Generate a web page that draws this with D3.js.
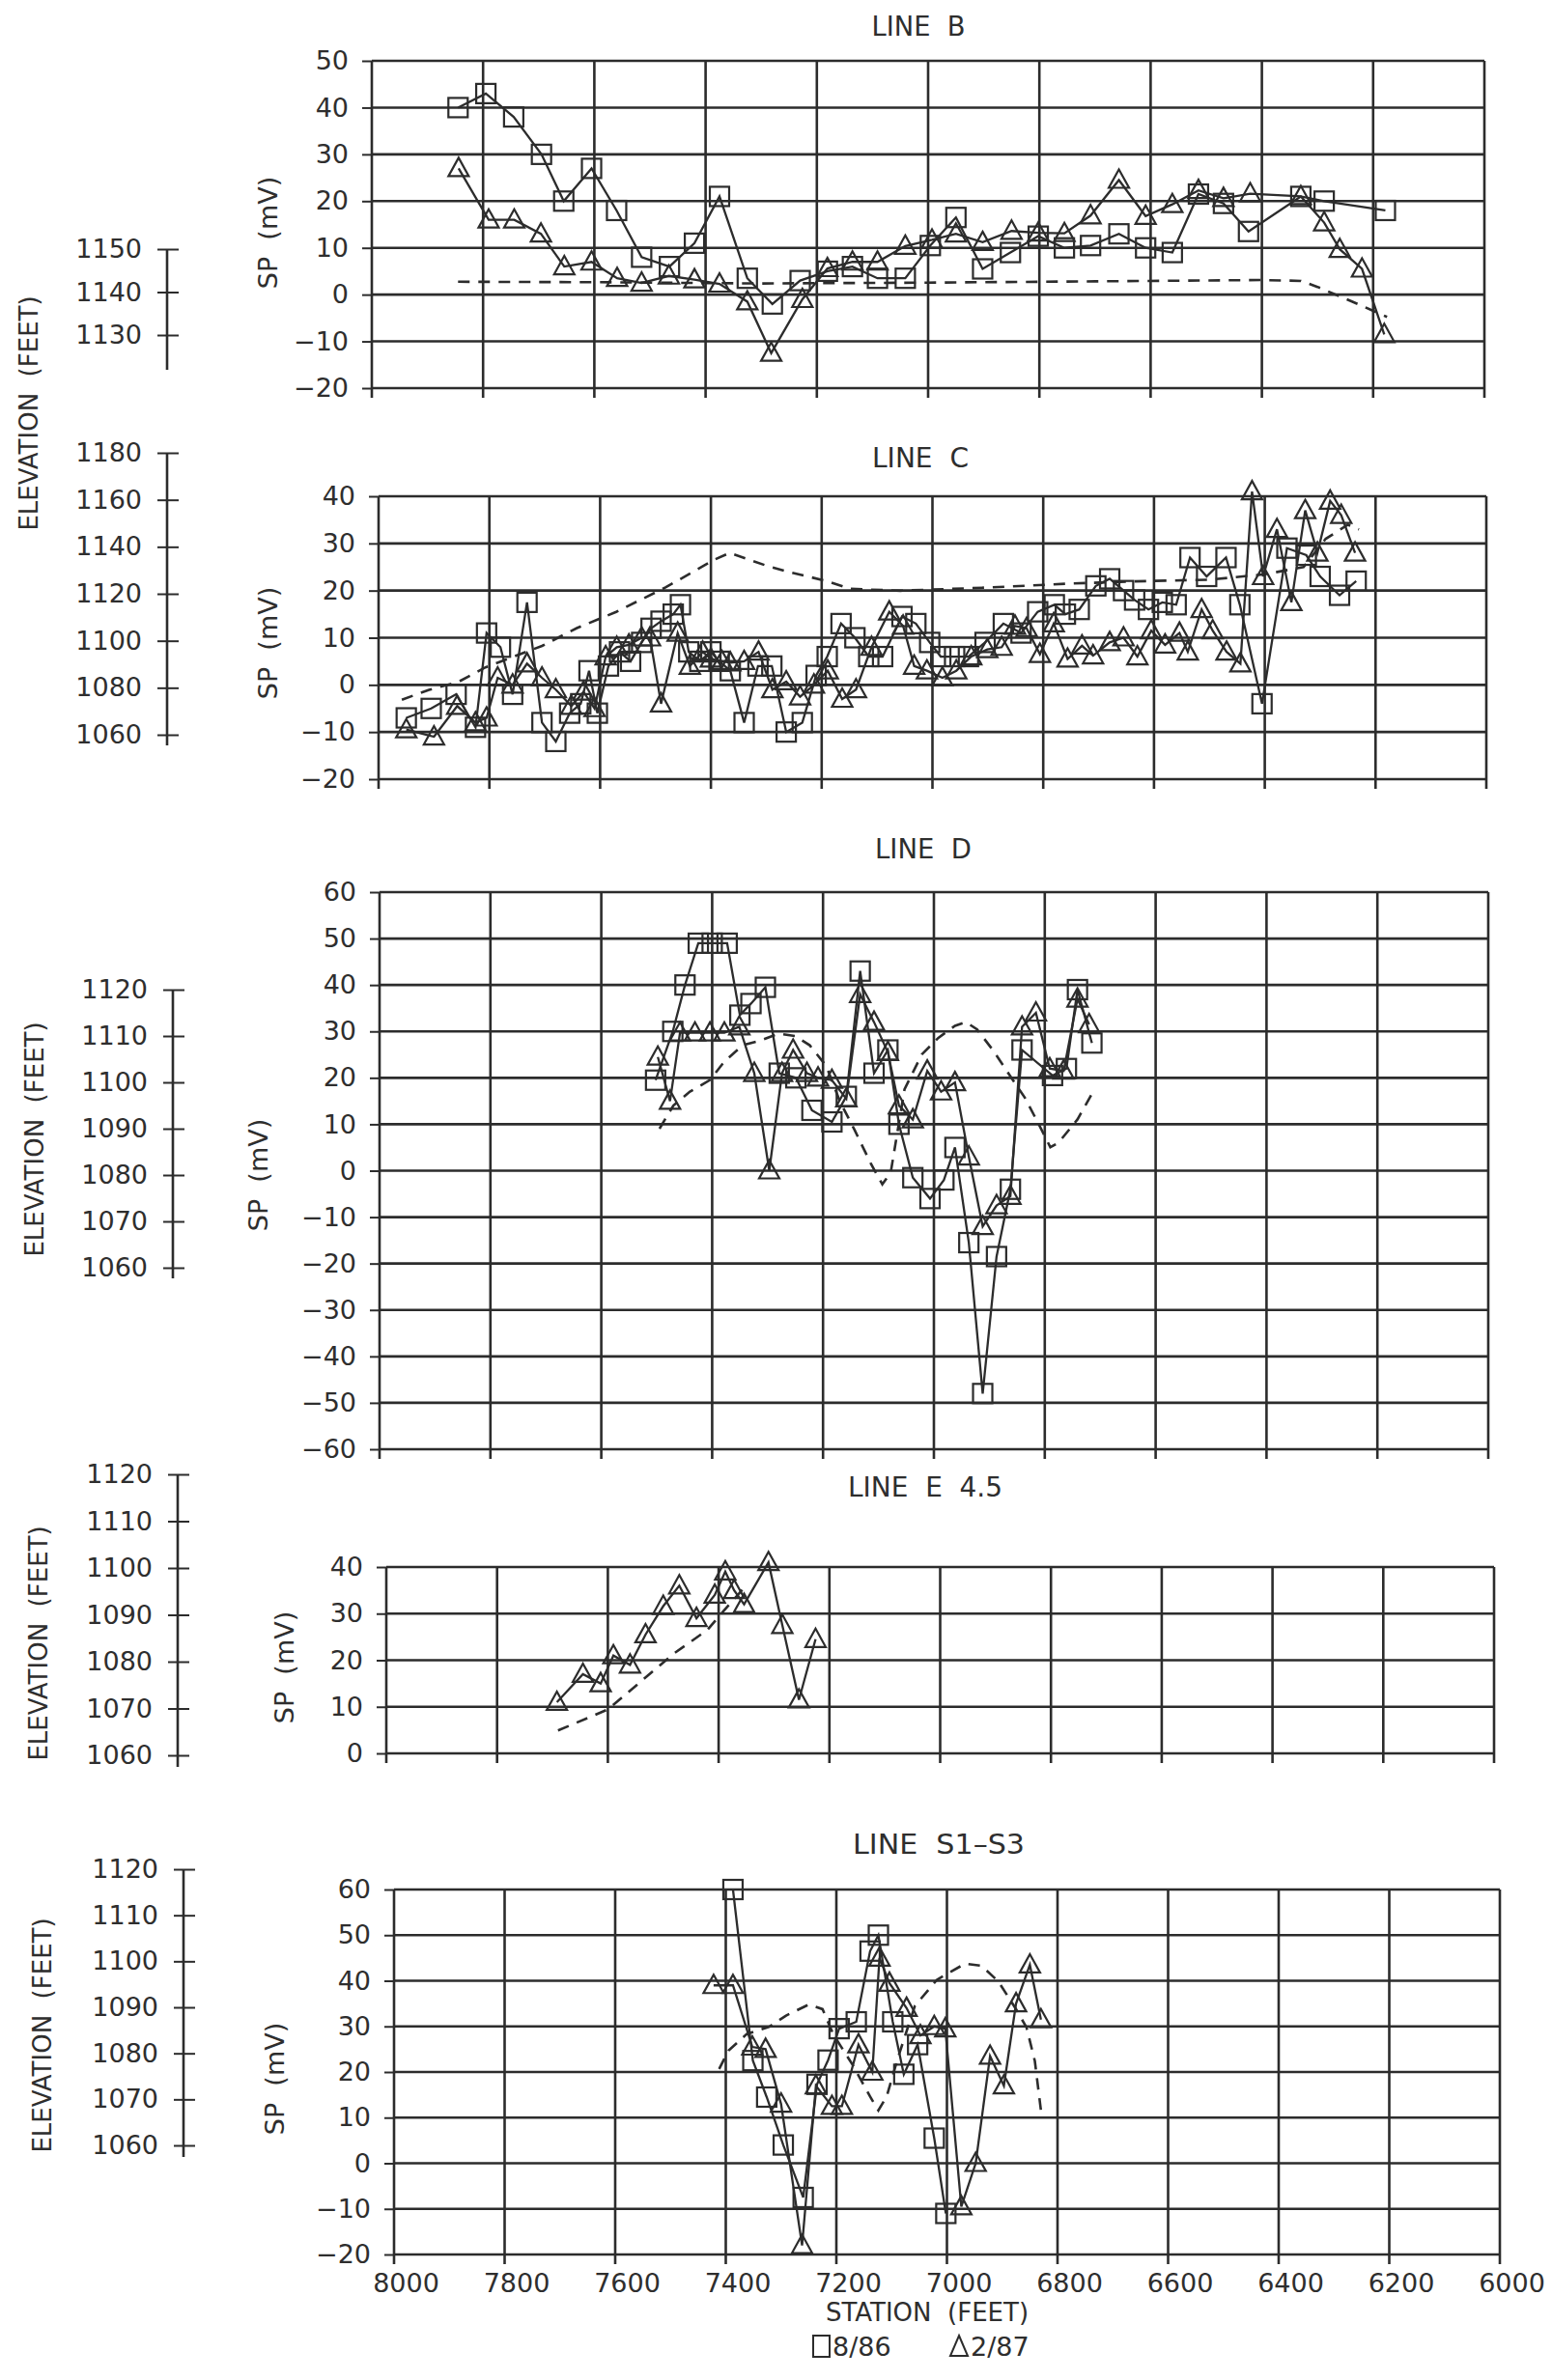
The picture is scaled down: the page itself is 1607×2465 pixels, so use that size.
<!DOCTYPE html>
<meta charset="utf-8">
<script src="https://d3js.org/d3.v7.min.js"></script>
<style>
  body { margin: 0; background: #fff; }
  text { font-family: "DejaVu Sans", "Liberation Sans", sans-serif; fill: #2e2e2e; }
</style>
<div id="chart"></div>
<script>
  // station (feet) grid, shared by all panels
  var stations = [8000, 7800, 7600, 7400, 7200, 7000, 6800, 6600, 6400, 6200, 6000];

  // ---- LINE B ----
  var lineB_ticks = [-20, -10, 0, 10, 20, 30, 40, 50];
  var lineB_elevTicks = [1130, 1140, 1150];
  var lineB_886 = [[7845,40],[7795,43],[7745,38],[7695,30],[7655,20],[7605,27],[7560,18],[7515,8],[7465,6],[7420,11],[7375,21],[7325,3.5],[7280,-2],[7230,3],[7181,5],[7136,6],[7091,3.5],[7041,3.5],[6996,10.5],[6950,16.5],[6902,5.5],[6852,9],[6802,12.5],[6755,10],[6708,10.5],[6657,13],[6609,10],[6561,9],[6514,21.5],[6469,19.5],[6424,13.5],[6330,21],[6288,20],[6178,18]];
  var lineB_287 = [[7844,27],[7790,16],[7744,16],[7696,13],[7654,6],[7605,7],[7559,3.5],[7515,2.5],[7466,4],[7420,3.2],[7375,2.3],[7325,-1.5],[7282,-12.5],[7226,-1],[7181,5.6],[7136,7],[7091,7],[7041,10.4],[6993,11.7],[6950,13],[6902,11.2],[6850,13.6],[6802,13.2],[6755,13.1],[6708,16.9],[6657,24.5],[6609,16.8],[6561,19.3],[6514,22.3],[6469,20.6],[6421,21.6],[6330,21],[6288,15.4],[6260,9.7],[6220,5.5],[6180,-8.5]];
  var lineB_elev = [[7845,1142.4],[7600,1142.3],[7300,1142.0],[7000,1142.2],[6700,1142.5],[6400,1142.8],[6330,1142.6],[6300,1141.2],[6260,1139],[6220,1136.8],[6175,1134.2]];

  // ---- LINE C ----
  var lineC_ticks = [-20, -10, 0, 10, 20, 30, 40];
  var lineC_elevTicks = [1060, 1080, 1100, 1120, 1140, 1160, 1180];
  var lineC_886 = [[7950,-7],[7905,-5],[7860,-2],[7825,-9],[7805,11],[7780,8],[7758,-2],[7732,17.5],[7705,-8],[7680,-12],[7655,-6],[7635,-4],[7620,3],[7605,-6],[7585,4],[7565,7],[7545,5],[7525,9],[7508,12],[7490,13.5],[7468,15],[7455,17],[7440,7],[7420,5],[7400,7],[7385,5],[7365,3],[7340,-8],[7315,4],[7290,4],[7264,-10],[7235,-8],[7210,2],[7190,6],[7165,13],[7140,10],[7115,6],[7090,6],[7055,14.5],[7030,13],[7005,9],[6985,6],[6960,6],[6935,6],[6905,9],[6872,13],[6840,11],[6810,15.5],[6780,17],[6760,15],[6735,16],[6705,21],[6680,22.5],[6655,20],[6635,18],[6610,16],[6585,17.5],[6560,17],[6535,27],[6505,23],[6470,27],[6445,17],[6405,-4],[6360,29],[6325,27.5],[6300,23],[6265,19],[6235,22]];
  var lineC_287 = [[7950,-9.5],[7900,-11],[7858,-4.5],[7825,-8],[7805,-7],[7785,1.5],[7758,0],[7732,4.5],[7705,1.5],[7680,-1],[7652,-4.5],[7630,-1.5],[7610,-5],[7590,6],[7570,8],[7548,8.5],[7525,10],[7510,10],[7490,-4],[7460,11],[7438,4],[7415,7],[7400,5.5],[7380,5],[7365,4.7],[7340,5],[7314,7],[7289,-1],[7264,0.7],[7239,-2.5],[7214,0],[7189,3],[7163,-3],[7138,-1],[7110,8],[7078,15.5],[7053,12.5],[7033,4],[7010,3],[6982,1.5],[6957,3],[6930,6],[6901,7.5],[6875,8],[6851,12.5],[6830,12],[6806,6.5],[6781,13],[6756,5.5],[6730,8.3],[6710,6.2],[6680,9],[6655,10],[6630,6],[6605,11.5],[6580,8.5],[6554,11],[6539,7],[6514,16],[6494,11.5],[6469,7],[6444,4.5],[6423,41],[6403,23],[6378,33],[6352,17.5],[6327,37],[6305,28],[6282,39],[6262,36],[6237,28]];
  var lineC_elev = [[7958,1074.9],[7909,1079.1],[7856,1082.5],[7807,1088.7],[7705,1097.8],[7642,1105.4],[7571,1112.3],[7482,1122.7],[7393,1134.6],[7366,1137.4],[7300,1132],[7259,1129.3],[7189,1125.3],[7148,1122.1],[7058,1121.3],[6896,1122.7],[6756,1124.3],[6635,1125.3],[6500,1126],[6400,1128.3],[6330,1131.4],[6290,1143.4],[6250,1149.4],[6230,1147.4]];

  // ---- LINE D ----
  var lineD_ticks = [-60, -50, -40, -30, -20, -10, 0, 10, 20, 30, 40, 50, 60];
  var lineD_elevTicks = [1060, 1070, 1080, 1090, 1100, 1110, 1120];
  var lineD_886 = [[7502,19.5],[7471,30],[7449,40],[7425,49],[7400,49],[7373,49],[7350,33.5],[7330,36],[7304,39.5],[7279,21],[7249,20],[7220,13],[7184,10.5],[7158,16],[7133,43],[7108,21],[7083,26],[7063,10],[7038,-1.5],[7007,-6],[6982,-2],[6962,5],[6937,-15.5],[6912,-48],[6887,-18.5],[6862,-4],[6841,26],[6786,20.5],[6761,22],[6741,39],[6715,27.5]];
  var lineD_287 = [[7498,24.5],[7476,15],[7458,29.7],[7431,29.7],[7404,29.7],[7378,29.7],[7351,31],[7324,21],[7297,0],[7274,21],[7254,26],[7229,21],[7209,20],[7184,19.5],[7158,15.5],[7133,38],[7108,32],[7083,25.5],[7063,14],[7038,11],[7012,21.5],[6987,17],[6962,19],[6937,3],[6912,-12],[6887,-7.5],[6862,-5.5],[6841,31],[6816,34],[6791,22],[6766,21.5],[6741,37],[6720,31.5]];
  var lineD_elev = [[7495,1090],[7470,1095],[7440,1098],[7404,1100.5],[7378,1104.5],[7345,1108],[7314,1109],[7280,1110.5],[7250,1110],[7224,1108],[7194,1103.5],[7170,1096],[7143,1089.7],[7113,1082.3],[7093,1078],[7078,1080.5],[7053,1098.5],[7022,1106],[6992,1109.6],[6962,1112.2],[6942,1113],[6922,1111.4],[6892,1106.7],[6862,1101.3],[6836,1096.7],[6811,1091],[6790,1086],[6775,1087],[6741,1092],[6715,1097.5]];

  // ---- LINE E 4.5 ----
  var lineE_ticks = [0, 10, 20, 30, 40];
  var lineE_elevTicks = [1060, 1070, 1080, 1090, 1100, 1110, 1120];
  var lineE_886 = [];
  var lineE_287 = [[7692,11],[7645,17],[7613,15],[7590,21],[7560,19],[7532,25.5],[7500,31.6],[7471,36],[7440,29],[7407,34],[7388,39],[7372,35],[7354,32],[7310,41],[7285,27.5],[7255,11.5],[7225,24.5]];
  var lineE_elev = [[7690,1065.3],[7600,1069.8],[7540,1075.8],[7480,1081.8],[7420,1086.8],[7395,1090.3],[7350,1096.3]];

  // ---- LINE S1-S3 ----
  var lineS_ticks = [-20, -10, 0, 10, 20, 30, 40, 50, 60];
  var lineS_elevTicks = [1060, 1070, 1080, 1090, 1100, 1110, 1120];
  var lineS_886 = [[7387,60],[7351,22.5],[7326,14.5],[7296,4],[7260,-7.5],[7235,17.3],[7215,22.6],[7195,29.5],[7164,31],[7139,46.5],[7124,50],[7098,31],[7078,19.5],[7053,26],[7023,5.5],[7002,-11]];
  var lineS_287 = [[7422,39],[7387,39],[7352,25.5],[7328,25],[7300,13],[7262,-18],[7237,17],[7208,12.5],[7190,12.5],[7160,26],[7135,20],[7122,45],[7104,39.5],[7073,34],[7048,28],[7023,30],[7003,29.5],[6974,-9.5],[6948,0],[6922,23.5],[6897,17],[6875,35],[6850,43.5],[6830,31.5]];
  var lineS_elev = [[7412,1076.6],[7395,1080.6],[7362,1084.2],[7321,1085.8],[7291,1088.2],[7250,1090.6],[7225,1089.6],[7205,1084],[7170,1077.4],[7139,1070.6],[7124,1067.6],[7109,1070.6],[7089,1078.9],[7058,1090.3],[7018,1096],[6967,1099.5],[6937,1099],[6907,1095.6],[6876,1089.8],[6856,1085.6],[6841,1078.3],[6830,1067.6]];

  // page layout of each panel
  var panels = [
    {title: "LINE  B", tw: 97, sq: lineB_886, tri: lineB_287, elev: lineB_elev, ticks: lineB_ticks, elevTicks: lineB_elevTicks,
     left: 385, right: 1537, top: 63, bottom: 402, elevTop: 258, elevBottom: 347, elevX: 173, elevEnd: 383,
     titleX: 951, titleY: 37, spX: 278, spY: 241},
    {title: "LINE  C", tw: 100, sq: lineC_886, tri: lineC_287, elev: lineC_elev, ticks: lineC_ticks, elevTicks: lineC_elevTicks,
     left: 392, right: 1539, top: 514, bottom: 807, elevTop: 469, elevBottom: 761, elevX: 173, elevEnd: 772,
     titleX: 953, titleY: 484, spX: 278, spY: 666},
    {title: "LINE  D", tw: 100, sq: lineD_886, tri: lineD_287, elev: lineD_elev, ticks: lineD_ticks, elevTicks: lineD_elevTicks,
     left: 393, right: 1541, top: 924, bottom: 1501, elevTop: 1025, elevBottom: 1313, elevX: 179, elevEnd: 1324,
     titleX: 956, titleY: 889, spX: 268, spY: 1217},
    {title: "LINE  E  4.5", tw: 160, sq: lineE_886, tri: lineE_287, elev: lineE_elev, ticks: lineE_ticks, elevTicks: lineE_elevTicks,
     left: 400, right: 1547, top: 1623, bottom: 1816, elevTop: 1527, elevBottom: 1818, elevX: 184, elevEnd: 1830,
     titleX: 958, titleY: 1550, spX: 295, spY: 1727},
    {title: "LINE  S1\u2013S3", tw: 178, sq: lineS_886, tri: lineS_287, elev: lineS_elev, ticks: lineS_ticks, elevTicks: lineS_elevTicks,
     left: 408, right: 1553, top: 1957, bottom: 2335, elevTop: 1936, elevBottom: 2222, elevX: 190, elevEnd: 2234,
     titleX: 972, titleY: 1920, spX: 285, spY: 2153}
  ];
  var elevLabels = [[30, 428], [36, 1180], [40, 1702], [44, 2108]];

  var ink = "#2c2c2c";
  var svg = d3.select("#chart").append("svg").attr("width", 1607).attr("height", 2465);
  svg.append("rect").attr("width", 1607).attr("height", 2465).attr("fill", "#fff");

  var triPath = "M0,-11L10.5,8L-10.5,8Z";

  panels.forEach(function(p, i) {
    var x = d3.scaleLinear().domain([8000, 6000]).range([p.left, p.right]);
    var y = d3.scaleLinear().domain(d3.extent(p.ticks)).range([p.bottom, p.top]);
    var ey = d3.scaleLinear().domain(d3.extent(p.elevTicks)).range([p.elevBottom, p.elevTop]);
    var g = svg.append("g");

    // grid
    g.selectAll(".hg").data(p.ticks).enter().append("line")
      .attr("x1", p.left).attr("x2", p.right)
      .attr("y1", function(d) { return y(d); }).attr("y2", function(d) { return y(d); })
      .attr("stroke", ink).attr("stroke-width", 2.6);
    g.selectAll(".vg").data(stations).enter().append("line")
      .attr("x1", function(d) { return x(d); }).attr("x2", function(d) { return x(d); })
      .attr("y1", p.top).attr("y2", p.bottom + 10)
      .attr("stroke", ink).attr("stroke-width", 2.6);

    // SP axis
    var ya = g.append("g").attr("transform", "translate(" + p.left + ",0)")
      .call(d3.axisLeft(y).tickValues(p.ticks).tickSize(10).tickPadding(14));
    ya.select(".domain").remove();
    ya.attr("font-size", 27).attr("font-family", "DejaVu Sans").attr("color", ink);
    ya.selectAll("line").attr("stroke-width", 2);

    // elevation axis
    var ea = g.append("g").attr("transform", "translate(" + p.elevX + ",0)")
      .call(d3.axisLeft(ey).tickValues(p.elevTicks).tickSize(0).tickPadding(26).tickFormat(d3.format("d")));
    ea.select(".domain").remove();
    ea.attr("font-size", 27).attr("font-family", "DejaVu Sans").attr("color", ink);
    ea.selectAll(".tick line").attr("x1", -10).attr("x2", 12).attr("stroke-width", 2);
    ea.append("line").attr("x1", 0).attr("x2", 0)
      .attr("y1", ey(d3.max(p.elevTicks))).attr("y2", p.elevEnd)
      .attr("stroke", ink).attr("stroke-width", 2.6);

    // title and SP label
    g.append("text").attr("x", p.titleX).attr("y", p.titleY)
      .attr("text-anchor", "middle").style("white-space", "pre")
      .attr("font-size", 28).attr("textLength", p.tw).attr("lengthAdjust", "spacingAndGlyphs")
      .text(p.title);
    g.append("text").attr("transform", "translate(" + p.spX + "," + p.spY + ") rotate(-90)")
      .attr("text-anchor", "middle").attr("dy", "0.35em").style("white-space", "pre")
      .attr("font-size", 27).text("SP  (mV)");

    // elevation profile (dashed)
    var eline = d3.line().x(function(d) { return x(d[0]); }).y(function(d) { return ey(d[1]); });
    g.append("path").datum(p.elev).attr("d", eline)
      .attr("fill", "none").attr("stroke", ink).attr("stroke-width", 2.6)
      .attr("stroke-dasharray", "12,9");

    // SP series
    var sline = d3.line().x(function(d) { return x(d[0]); }).y(function(d) { return y(d[1]); });
    [p.sq, p.tri].forEach(function(s) {
      if (s.length) g.append("path").datum(s).attr("d", sline)
        .attr("fill", "none").attr("stroke", ink).attr("stroke-width", 2.3);
    });
    g.selectAll(".sq").data(p.sq).enter().append("rect")
      .attr("x", function(d) { return x(d[0]) - 10; }).attr("y", function(d) { return y(d[1]) - 10; })
      .attr("width", 20).attr("height", 20)
      .attr("fill", "none").attr("stroke", ink).attr("stroke-width", 2.2);
    g.selectAll(".tri").data(p.tri).enter().append("path")
      .attr("d", triPath)
      .attr("transform", function(d) { return "translate(" + x(d[0]) + "," + y(d[1]) + ")"; })
      .attr("fill", "none").attr("stroke", ink).attr("stroke-width", 2.2);

    // station labels on the bottom panel only
    if (i === panels.length - 1) {
      var xa = g.append("g").attr("transform", "translate(0," + p.bottom + ")")
        .call(d3.axisBottom(x).tickValues(stations).tickSize(0).tickPadding(20).tickFormat(d3.format("d")));
      xa.select(".domain").remove();
      xa.attr("font-size", 27).attr("font-family", "DejaVu Sans").attr("color", ink);
      xa.selectAll("text").attr("dx", 12);
      g.append("text").attr("x", 960).attr("y", 2404).attr("text-anchor", "middle")
        .style("white-space", "pre").attr("font-size", 26).text("STATION  (FEET)");
    }
  });

  // ELEVATION (FEET) labels
  elevLabels.forEach(function(c) {
    svg.append("text").attr("transform", "translate(" + c[0] + "," + c[1] + ") rotate(-90)")
      .attr("text-anchor", "middle").attr("dy", "0.35em").style("white-space", "pre")
      .attr("font-size", 26).text("ELEVATION  (FEET)");
  });

  // legend
  var leg = svg.append("g");
  leg.append("rect").attr("x", 842).attr("y", 2419).attr("width", 17).attr("height", 22)
    .attr("fill", "none").attr("stroke", ink).attr("stroke-width", 2);
  leg.append("text").attr("x", 862).attr("y", 2440).attr("font-size", 27).text("8/86");
  leg.append("path").attr("d", "M0,-11L9,10L-9,10Z").attr("transform", "translate(993,2430)")
    .attr("fill", "none").attr("stroke", ink).attr("stroke-width", 2);
  leg.append("text").attr("x", 1005).attr("y", 2440).attr("font-size", 27).text("2/87");
</script>
